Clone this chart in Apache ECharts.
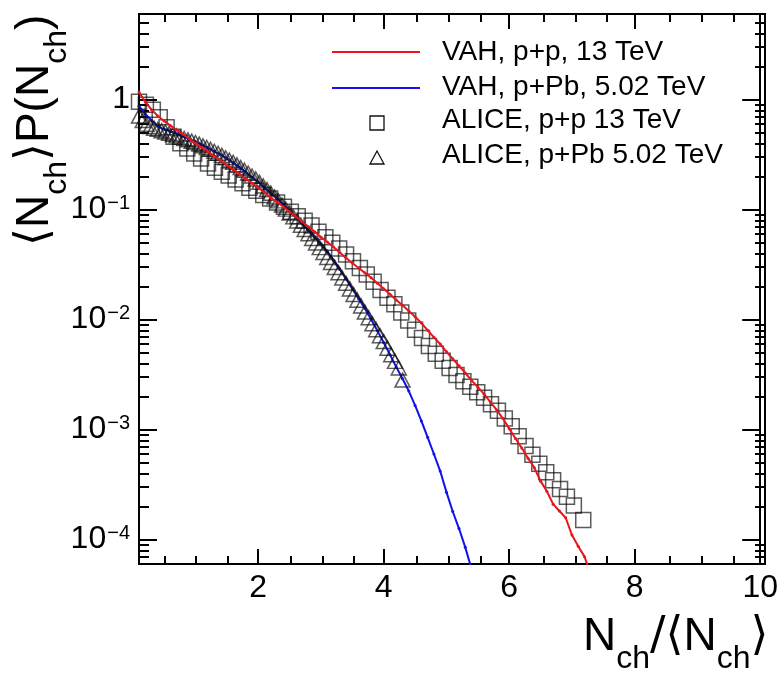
<!DOCTYPE html>
<html>
<head>
<meta charset="utf-8">
<script src="https://cdn.jsdelivr.net/npm/echarts@6/dist/echarts.min.js"></script>
<style>
html, body { margin: 0; padding: 0; background: #fff; }
#chart { width: 781px; height: 676px; }
</style>
</head>
<body>
<div id="chart"></div>
<script>
const FONT = '"Liberation Sans", Arial, Helvetica, sans-serif';

// VAH, p+p, 13 TeV
const vahPPx = [0.1,0.2,0.3,0.4,0.5,0.6,0.7,0.8,0.9,1.0,1.1,1.2,1.3,1.4,1.5,1.6,1.7,1.8,1.9,2.0,
  2.1,2.2,2.3,2.4,2.5,2.6,2.7,2.8,2.9,3.0,3.1,3.2,3.3,3.4,3.5,3.6,3.7,3.8,3.9,4.0,
  4.1,4.2,4.3,4.4,4.5,4.6,4.7,4.8,4.9,5.0,5.1,5.2,5.3,5.4,5.5,5.6,5.7,5.8,5.9,6.0,
  6.1,6.2,6.3,6.4,6.5,6.6,6.7,6.8,6.9,7.0,7.1,7.2,7.3];
const vahPPy = [1.17,0.955,0.81,0.71,0.64,0.58,0.53,0.485,0.44,0.40,0.367,0.335,0.305,0.279,0.254,0.232,0.211,0.19,0.174,0.158,
  0.143,0.129,0.117,0.106,0.0955,0.086,0.0776,0.070,0.063,0.0562,0.0507,0.0457,0.0407,0.0363,0.0327,0.0295,0.0266,0.024,0.0214,0.0191,
  0.017,0.0151,0.0135,0.012,0.0106,0.0093,0.008,0.0069,0.006,0.0051,0.0044,0.0038,0.00327,0.0028,0.00243,0.0021,0.00178,0.00151,0.00126,0.00102,
  0.00083,0.00068,0.00055,0.00045,0.00034,0.000275,0.00021,0.000182,0.000158,0.00011,0.000087,0.00007,0.000048];

// VAH, p+Pb, 5.02 TeV
const vahPPbx = [0.1,0.2,0.3,0.4,0.5,0.6,0.7,0.8,0.9,1.0,1.1,1.2,1.3,1.4,1.5,1.6,1.7,1.8,1.9,2.0,
  2.1,2.2,2.3,2.4,2.5,2.6,2.7,2.8,2.9,3.0,3.1,3.2,3.3,3.4,3.5,3.6,3.7,3.8,3.9,4.0,
  4.1,4.2,4.3,4.4,4.5,4.6,4.7,4.8,4.9,5.0,5.1,5.2,5.3,5.4];
const vahPPby = [0.871,0.741,0.646,0.575,0.537,0.513,0.490,0.462,0.437,0.412,0.389,0.363,0.339,0.316,0.292,0.266,0.243,0.219,0.197,0.178,
  0.158,0.141,0.126,0.111,0.0977,0.0851,0.0741,0.0646,0.0562,0.049,0.0417,0.0347,0.0288,0.0234,0.019,0.0155,0.0126,0.0100,0.0079,0.0062,
  0.0048,0.0037,0.0029,0.00224,0.00166,0.0012,0.00085,0.0006,0.00042,0.00027,0.00018,0.000126,0.000085,0.000054];

// ALICE, p+p 13 TeV
const alicePPx = [0.10,0.21,0.32,0.43,0.54,0.65,0.76,0.87,0.98,1.09,1.20,1.31,1.42,1.53,1.64,1.75,1.86,1.97,2.08,2.19,
  2.30,2.41,2.52,2.63,2.74,2.85,2.96,3.07,3.18,3.29,3.40,3.51,3.62,3.73,3.84,3.95,4.06,4.17,4.28,4.39,
  4.50,4.61,4.72,4.83,4.94,5.05,5.16,5.27,5.38,5.49,5.60,5.71,5.82,5.93,6.04,6.15,6.26,6.37,6.48,6.59,
  6.70,6.81,6.92,7.03,7.18];
const alicePPy = [0.955,0.90,0.81,0.69,0.56,0.46,0.40,0.36,0.324,0.292,0.263,0.24,0.221,0.204,0.188,0.174,0.158,0.148,0.136,0.126,
  0.116,0.106,0.0955,0.087,0.079,0.0716,0.063,0.0562,0.05,0.0442,0.039,0.0339,0.0295,0.0257,0.0221,0.0186,0.0158,0.0138,0.0116,0.0098,
  0.0081,0.0068,0.00575,0.0049,0.00422,0.00363,0.00313,0.00275,0.00245,0.00219,0.00195,0.0017,0.00148,0.00126,0.00107,0.00087,0.00071,0.00059,0.00049,0.00041,
  0.000347,0.000288,0.000245,0.000204,0.000151];

// ALICE, p+Pb 5.02 TeV
const alicePPbx = [0.10,0.16,0.22,0.28,0.34,0.40,0.46,0.52,0.58,0.64,0.70,0.76,0.82,0.88,0.94,1.00,1.06,1.12,1.18,1.24,
  1.30,1.36,1.42,1.48,1.54,1.60,1.66,1.72,1.78,1.84,1.90,1.96,2.02,2.08,2.14,2.20,2.26,2.32,2.38,2.44,
  2.50,2.56,2.62,2.68,2.74,2.80,2.86,2.92,2.98,3.04,3.10,3.16,3.22,3.28,3.34,3.40,3.46,3.52,3.58,3.64,
  3.70,3.76,3.82,3.88,3.94,4.00,4.06,4.12,4.18,4.24,4.30];
const alicePPby = [0.708,0.646,0.596,0.569,0.550,0.537,0.522,0.508,0.494,0.481,0.468,0.455,0.443,0.431,0.419,0.407,0.394,0.380,0.367,0.353,
  0.339,0.325,0.311,0.296,0.282,0.269,0.255,0.241,0.228,0.215,0.202,0.190,0.177,0.164,0.152,0.141,0.130,0.120,0.110,0.101,
  0.0933,0.0859,0.0789,0.0721,0.0659,0.0603,0.0547,0.0497,0.0451,0.0407,0.0367,0.0331,0.0298,0.0267,0.0239,0.0214,0.0190,0.0169,0.0150,0.0133,
  0.0117,0.0104,0.00916,0.00809,0.00714,0.00631,0.00550,0.00479,0.00417,0.00363,0.00282];

// Axis ranges and tick positions
const xRange = [0.1, 10];
const yRange = [6e-5, 6];
const xMajorTicks = [2, 4, 6, 8, 10];
const xMinorTicks = [0.5, 1, 1.5, 2.5, 3, 3.5, 4.5, 5, 5.5, 6.5, 7, 7.5, 8.5, 9, 9.5];
const yMajorTicks = [1e-4, 1e-3, 1e-2, 1e-1, 1];
const yMinorTicks = [7e-5, 8e-5, 9e-5,
  2e-4, 3e-4, 4e-4, 5e-4, 6e-4, 7e-4, 8e-4, 9e-4,
  2e-3, 3e-3, 4e-3, 5e-3, 6e-3, 7e-3, 8e-3, 9e-3,
  0.02, 0.03, 0.04, 0.05, 0.06, 0.07, 0.08, 0.09,
  0.2, 0.3, 0.4, 0.5, 0.6, 0.7, 0.8, 0.9,
  2, 3, 4, 5];

const legendItems = ['VAH, p+p, 13 TeV', 'VAH, p+Pb, 5.02 TeV', 'ALICE, p+p 13 TeV', 'ALICE, p+Pb 5.02 TeV'];

const RED = '#e8161c';
const BLUE = '#1010f0';
const MARK = 'rgba(15,15,15,0.85)';

const zip = (xs, ys) => xs.map((x, i) => [x, ys[i]]);

const plotBox = { left: 139, top: 14, right: 16, bottom: 112 };

function yLabel(v) {
  const e = Math.round(Math.log10(v));
  if (e === 0) return '1';
  return '{b|10}{s|\u2212' + Math.abs(e) + '}';
}

function xAxisDef(gridIndex, position, ticks, len, withLabels) {
  return {
    type: 'value', gridIndex, position, min: xRange[0], max: xRange[1],
    axisLine: { show: true, onZero: false, lineStyle: { color: '#000', width: 2 } },
    axisTick: { show: true, inside: true, length: len, customValues: ticks, lineStyle: { color: '#000', width: 2 } },
    axisLabel: withLabels ? {
      show: true, customValues: ticks, fontSize: 32, fontFamily: FONT, color: '#000', margin: 8
    } : { show: false },
    splitLine: { show: false }
  };
}

function yAxisDef(gridIndex, position, ticks, len, withLabels) {
  return {
    type: 'log', logBase: 10, gridIndex, position, min: yRange[0], max: yRange[1],
    axisLine: { show: true, onZero: false, lineStyle: { color: '#000', width: 2 } },
    axisTick: { show: true, inside: true, length: len, customValues: ticks, lineStyle: { color: '#000', width: 2 } },
    axisLabel: withLabels ? {
      show: true, customValues: ticks, fontSize: 32, fontFamily: FONT, color: '#000', margin: 9,
      formatter: yLabel,
      rich: {
        b: { fontSize: 32, fontFamily: FONT, color: '#000' },
        s: { fontSize: 20, fontFamily: FONT, color: '#000', padding: [0, 0, 13, 1] }
      }
    } : { show: false },
    splitLine: { show: false }
  };
}

const titleRich = {
  m: { fontSize: 46, fontFamily: FONT, color: '#000' },
  b: { fontSize: 46, fontFamily: '"DejaVu Sans", ' + FONT, color: '#000' },
  sub: { fontSize: 32, fontFamily: FONT, color: '#000', padding: [44, 0, 0, 0] }
};

const legendGraphics = [
  { type: 'line', shape: { x1: 332, y1: 52, x2: 420, y2: 52 }, style: { stroke: RED, lineWidth: 2 } },
  { type: 'line', shape: { x1: 332, y1: 88, x2: 420, y2: 88 }, style: { stroke: BLUE, lineWidth: 2 } },
  { type: 'rect', shape: { x: 370, y: 116, width: 14, height: 14 }, style: { fill: 'none', stroke: '#111', lineWidth: 1.3 } },
  { type: 'polygon', shape: { points: [[377, 151], [370, 164], [384, 164]] }, style: { fill: 'none', stroke: '#111', lineWidth: 1.3 } }
].concat(legendItems.map((t, i) => ({
  type: 'text', x: 442, y: [52, 87, 120, 155][i],
  style: { text: t, fontSize: 28, fontFamily: FONT, fill: '#000', align: 'left', verticalAlign: 'middle' }
})));

const chart = echarts.init(document.getElementById('chart'), null, { renderer: 'canvas' });
chart.setOption({
  animation: false,
  backgroundColor: '#fff',
  grid: [
    Object.assign({}, plotBox, { containLabel: false }),
    Object.assign({}, plotBox, { containLabel: false })
  ],
  xAxis: [
    xAxisDef(0, 'bottom', xMajorTicks, 15, true),
    xAxisDef(0, 'top', xMajorTicks, 15, false),
    xAxisDef(1, 'bottom', xMinorTicks, 8, false),
    xAxisDef(1, 'top', xMinorTicks, 8, false)
  ],
  yAxis: [
    yAxisDef(0, 'left', yMajorTicks, 18, true),
    yAxisDef(0, 'right', yMajorTicks, 18, false),
    yAxisDef(1, 'left', yMinorTicks, 10, false),
    yAxisDef(1, 'right', yMinorTicks, 10, false)
  ],
  series: [
    {
      name: legendItems[1], type: 'line', xAxisIndex: 0, yAxisIndex: 0,
      data: zip(vahPPbx, vahPPby), color: BLUE,
      lineStyle: { width: 2, color: BLUE }, symbol: 'circle', symbolSize: 3, showSymbol: true,
      itemStyle: { color: BLUE }, clip: true, silent: true, z: 2
    },
    {
      name: legendItems[3], type: 'scatter', xAxisIndex: 0, yAxisIndex: 0,
      data: zip(alicePPbx, alicePPby), symbol: 'triangle', symbolSize: [15, 14],
      itemStyle: { color: 'rgba(0,0,0,0)', borderColor: MARK, borderWidth: 1.5 },
      clip: true, silent: true, z: 3
    },
    {
      name: legendItems[2], type: 'scatter', xAxisIndex: 0, yAxisIndex: 0,
      data: zip(alicePPx, alicePPy), symbol: 'rect', symbolSize: 15,
      itemStyle: { color: 'rgba(0,0,0,0)', borderColor: MARK, borderWidth: 1.5 },
      clip: true, silent: true, z: 4
    },
    {
      name: legendItems[0], type: 'line', xAxisIndex: 0, yAxisIndex: 0,
      data: zip(vahPPx, vahPPy), color: RED,
      lineStyle: { width: 2, color: RED }, symbol: 'circle', symbolSize: 3, showSymbol: true,
      itemStyle: { color: RED }, clip: true, silent: true, z: 5
    }
  ],
  graphic: legendGraphics.concat([
    {
      type: 'text', x: 583, y: 637,
      style: {
        text: '{m|N}{sub|ch}{b|/\u27E8}{m|N}{sub|ch}{b|\u27E9}',
        rich: titleRich, align: 'left', verticalAlign: 'middle'
      }
    },
    {
      type: 'text', x: 35, y: 246, rotation: Math.PI / 2,
      style: {
        text: '{b|\u27E8}{m|N}{sub|ch}{b|\u27E9}{m|P(N}{sub|ch}{m|)}',
        rich: titleRich, align: 'left', verticalAlign: 'middle'
      }
    }
  ])
});
</script>
</body>
</html>
